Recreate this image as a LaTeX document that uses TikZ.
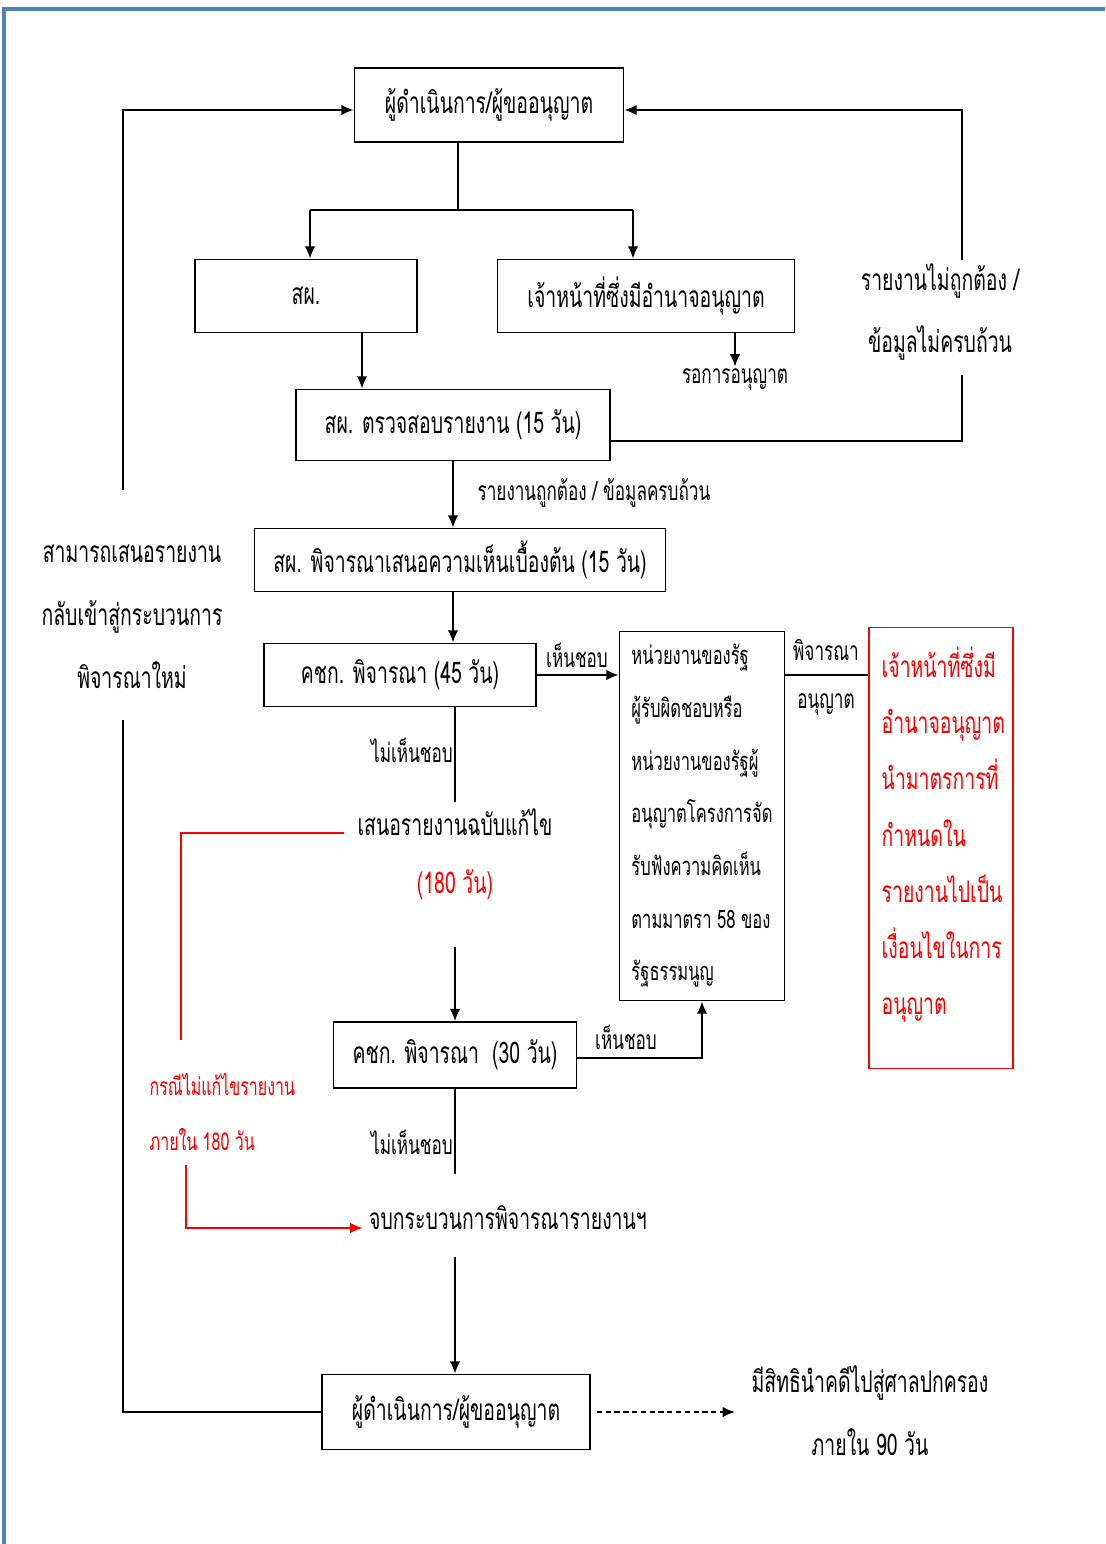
\documentclass[tikz,border=0pt]{standalone}
\usepackage{fontspec}
\setmainfont[Script=Thai,FakeStretch=0.65]{Loma}
\usetikzlibrary{arrows.meta}
\definecolor{frameblue}{RGB}{79,129,189}
\begin{document}
\begin{tikzpicture}[x=.02cm,y=-.02cm,line width=1pt,>={Latex[length=7pt,width=6pt]},
  every node/.style={font=\fontsize{17}{20}\selectfont},
  box/.style 2 args={draw,minimum width=#1*.02cm,minimum height=#2*.02cm},
  sm/.style={font=\fontsize{15}{17}\selectfont,inner sep=1pt},
  ml/.style 2 args={align=center,font=\fontsize{#1}{#2}\selectfont}]
\useasboundingbox(0,0)rectangle(1105,1544);
\draw[frameblue,line width=2pt](4,1544)--(4,9)--(1105,9);
% boxes and texts
\node[box={269}{74}](op)at(489,105){ผู้ดำเนินการ/ผู้ขออนุญาต};
\node[box={222}{73}](onep)at(306,296){สผ.};
\node[box={297}{73}](auth)at(646,296){เจ้าหน้าที่ซึ่งมีอำนาจอนุญาต};
\node[sm](wait)at(735,380){รอการอนุญาต};
\node[box={314}{71}](check)at(453,425){สผ. ตรวจสอบรายงาน (15 วัน)};
\node[sm,anchor=west](ok)at(475,493){รายงานถูกต้อง / ข้อมูลครบถ้วน};
\node[ml={17}{35}](wrong)at(940,312){รายงานไม่ถูกต้อง /\\ข้อมูลไม่ครบถ้วน};
\node[box={411}{63}](prelim)at(460,560){สผ. พิจารณาเสนอความเห็นเบื้องต้น (15 วัน)};
\node[ml={17}{36}](back)at(132,617){สามารถเสนอรายงาน\\กลับเข้าสู่กระบวนการ\\พิจารณาใหม่};
\node[box={272}{63}](eia45)at(400,675){คชก. พิจารณา (45 วัน)};
\node[sm](yes1)at(577,655){เห็นชอบ};
\node[box={165}{369},ml={14.5}{30},align=left](agency)at(702,816){หน่วยงานของรัฐ\\ผู้รับผิดชอบหรือ\\หน่วยงานของรัฐผู้\\อนุญาตโครงการจัด\\รับฟังความคิดเห็น\\ตามมาตรา 58 ของ\\รัฐธรรมนูญ};
\node[sm](consider)at(826,650){พิจารณา};
\node[sm](allow)at(826,705){อนุญาต};
\node[box={144}{441},draw=red](permit)at(941,848){};
\node[ml={17}{32},align=left,red,anchor=north west](permittxt)at(875,640){เจ้าหน้าที่ซึ่งมี\\อำนาจอนุญาต\\นำมาตรการที่\\กำหนดใน\\รายงานไปเป็น\\เงื่อนไขในการ\\อนุญาต};
\node[sm](no1)at(412,750){ไม่เห็นชอบ};
\node(revise)at(455,822){เสนอรายงานฉบับแก้ไข};
\node[red](d180)at(455,885){(180 วัน)};
\node[box={243}{66}](eia30)at(455,1055){คชก. พิจารณา~~(30 วัน)};
\node[sm](yes2)at(626,1037){เห็นชอบ};
\node[sm](no2)at(412,1142){ไม่เห็นชอบ};
\node[ml={14}{31},align=left,red,anchor=west](nofix)at(143,1112){กรณีไม่แก้ไขรายงาน\\ภายใน 180 วัน};
\node(endp)at(508,1218){จบกระบวนการพิจารณารายงานฯ};
\node[box={268}{75}](op2)at(456,1412){ผู้ดำเนินการ/ผู้ขออนุญาต};
\node[ml={17}{36}](court)at(870,1411){มีสิทธินำคดีไปสู่ศาลปกครอง\\ภายใน 90 วัน};
% connectors
\coordinate(fork)at(458,210);\coordinate(forkL)at(310,210);\coordinate(forkR)at(633,210);
\draw(op.south-|fork)--(fork);\draw(forkL)--(forkR);
\draw[->](forkL)--(forkL|-onep.north);\draw[->](forkR)--(forkR|-auth.north);
\draw[->]([xshift=1.12cm]onep.south)--([xshift=1.12cm]onep.south|-check.north);
\draw[->](auth.south-|wait)--(wait.north);
\coordinate(rb)at(962,375);\coordinate(rt)at(962,260);
\draw([yshift=-.32cm]check.east)-|(rb);\draw[->](rt)|-([yshift=-.1cm]op.east);
\draw[->](check.south)--(prelim.north-|check.south);
\draw[->](prelim.south-|check)--(eia45.north-|check);
\draw[->](eia45.east)--(eia45.east-|agency.west);
\draw(agency.east|-eia45.east)--(permit.west|-eia45.east);
\draw(eia45.south-|revise)--(revise.north);
\coordinate(rtop)at(181,1040);\coordinate(rbot)at(186,1165);
\draw[red]([xshift=-.14cm,yshift=-.22cm]revise.west)-|(rtop);
\draw[red,->](rbot)|-([yshift=-.2cm]endp.west);
\draw[->]([yshift=-.8cm]d180.south)--(eia30.north);
\draw[->]([yshift=-.06cm]eia30.east)-|(agency.south);
\draw(eia30.south)--([yshift=.5cm]endp.north-|eia30.south);
\draw[->]([yshift=-.4cm]endp.south-|eia30.south)--(op2.north-|eia30.south);
\coordinate(lt)at(123,490);\coordinate(lb)at(123,720);
\draw[->](lt)|-([yshift=-.1cm]op.west);\draw(lb)|-(op2.west);
\draw[->,dash pattern=on 3pt off 2pt]([xshift=.12cm]op2.east)--([xshift=-.2cm]op2.east-|court.west);
\end{tikzpicture}
\end{document}
